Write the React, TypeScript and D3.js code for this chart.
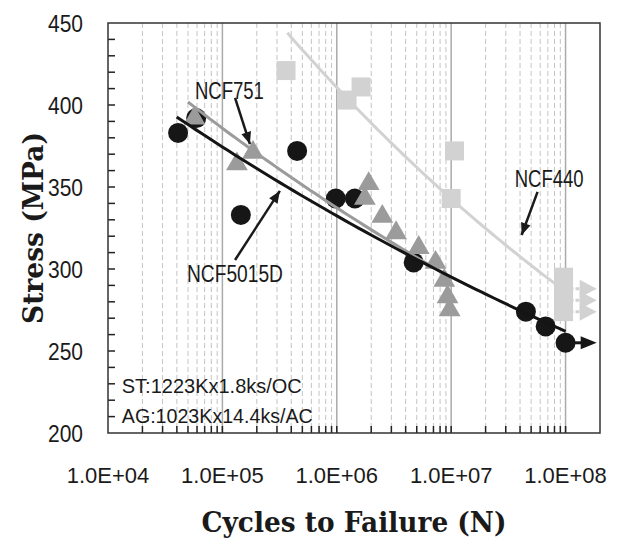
import React from "react";
import * as d3 from "d3";

// NCF5015D (black circles)
const ncf5015dCycles = [4.1e4, 5.9e4, 1.45e5, 4.5e5, 9.8e5, 1.44e6, 4.7e6, 4.5e7, 6.7e7, 1.0e8];
const ncf5015dStress = [383, 392, 333, 372, 343, 343, 304, 274, 265, 255];
const ncf5015dRunout = [false, false, false, false, false, false, false, false, false, true];

// NCF751 (grey triangles)
const ncf751Cycles = [5.7e4, 1.34e5, 1.85e5, 1.76e6, 1.9e6, 2.5e6, 3.3e6, 5.2e6, 7.3e6, 8.7e6, 9.3e6, 9.7e6];
const ncf751Stress = [392, 364, 371, 343, 352, 332, 322, 313, 304, 293, 283, 275];

// NCF440 (light grey squares)
const ncf440Cycles = [3.6e5, 1.23e6, 1.63e6, 1.07e7, 1.0e7, 9.6e7, 9.6e7, 9.6e7, 9.6e7];
const ncf440Stress = [421, 403, 411, 372, 343, 295, 288, 281, 274];
const ncf440Runout = [false, false, false, false, false, false, true, true, true];

// Power-law trend lines: S = S0 * (N / N0)^b, drawn from N0 to N1
const fitSeries = ["NCF440", "NCF751", "NCF5015D"];
const fitN0 = [3.7e5, 5.0e4, 3.98e4];
const fitN1 = [1.0e8, 1.0e7, 1.0e8];
const fitS0 = [444, 401.8, 392.7];
const fitB = [-0.0784, -0.0584, -0.0517];
const fitColors = ["#d2d2d2", "#9b9b9b", "#141414"];

const xTickValues = [1e4, 1e5, 1e6, 1e7, 1e8];
const xTickLabels = ["1.0E+04", "1.0E+05", "1.0E+06", "1.0E+07", "1.0E+08"];
const yTickValues = [200, 250, 300, 350, 400, 450];

const runoutEnd = 1.87e8;

const W = 619;
const H = 548;
const M = { left: 108, top: 23, right: 600, bottom: 433 };

export default function App() {
  const x = d3.scaleLog().domain([1e4, 2e8]).range([M.left, M.right]);
  const y = d3.scaleLinear().domain([200, 450]).range([M.bottom, M.top]);

  // decade sub-divisions for grid and ticks
  const minor: number[] = [];
  for (let e = 4; e <= 8; e++) {
    for (let k = 1; k <= 9; k++) {
      const v = k * Math.pow(10, e);
      if (v > 1e4 && v < 2e8) minor.push(v);
    }
  }
  const major = minor.filter((v) => xTickValues.includes(v));
  const minorOnly = minor.filter((v) => !xTickValues.includes(v));
  const yMinor = d3.range(210, 450, 10);

  const line = d3
    .line<[number, number]>()
    .x((d) => x(d[0]))
    .y((d) => y(d[1]));

  const fits = fitSeries.map((name, i) => {
    const pts: [number, number][] = d3
      .range(0, 61)
      .map((j) => {
        const ln = Math.log10(fitN0[i]) + (j / 60) * (Math.log10(fitN1[i]) - Math.log10(fitN0[i]));
        const n = Math.pow(10, ln);
        return [n, fitS0[i] * Math.pow(n / fitN0[i], fitB[i])];
      });
    return { name, d: line(pts) || "", color: fitColors[i] };
  });

  const tri = d3.symbol().type(d3.symbolTriangle).size(205)() || "";
  const sq = 19;

  const arrowHead = (x1: number, y1: number, x2: number, y2: number, len = 11, half = 4.5) => {
    const a = Math.atan2(y2 - y1, x2 - x1);
    const bx = x2 - len * Math.cos(a);
    const by = y2 - len * Math.sin(a);
    const px = -Math.sin(a) * half;
    const py = Math.cos(a) * half;
    return `M${x2},${y2}L${bx + px},${by + py}L${bx - px},${by - py}Z`;
  };

  const annotations = [
    { text: "NCF751", tx: 5.75e4, ts: 403.7, len: 69, ax: 1.29e5, as: 404.3, bx: 1.74e5, bs: 376.2 },
    { text: "NCF5015D", tx: 4.9e4, ts: 292, len: 96, ax: 1.29e5, as: 305.5, bx: 3.18e5, bs: 347.6 },
    { text: "NCF440", tx: 3.59e7, ts: 350, len: 69, ax: 5.69e7, as: 347, bx: 4.13e7, bs: 320.7 },
  ];

  const sans = "'Liberation Sans', Arial, sans-serif";
  const serif = "'DejaVu Serif', 'Liberation Serif', serif";

  return (
    <svg width={W} height={H} style={{ position: "absolute", left: 0, top: 0, background: "#fff" }}>
      {/* grid */}
      {minorOnly.map((v) => (
        <line key={`g${v}`} x1={x(v)} x2={x(v)} y1={M.top} y2={M.bottom} stroke="#c4c4c4" strokeWidth={1} strokeDasharray="5,3" />
      ))}
      {major.map((v) => (
        <line key={`G${v}`} x1={x(v)} x2={x(v)} y1={M.top} y2={M.bottom} stroke="#aaaaaa" strokeWidth={1.5} />
      ))}

      {/* ticks */}
      {minor.map((v) => (
        <line key={`t${v}`} x1={x(v)} x2={x(v)} y1={M.bottom} y2={M.bottom - 7} stroke="#222" strokeWidth={1.5} />
      ))}
      {yMinor.map((v) => (
        <line key={`yt${v}`} x1={M.left} x2={M.left + 7} y1={y(v)} y2={y(v)} stroke="#222" strokeWidth={1.5} />
      ))}

      {/* NCF5015D circles */}
      {ncf5015dCycles.map((n, i) => (
        <circle key={`c${i}`} cx={x(n)} cy={y(ncf5015dStress[i])} r={10} fill="#161616" />
      ))}
      {ncf5015dCycles.map((n, i) =>
        ncf5015dRunout[i] ? (
          <g key={`cr${i}`}>
            <line x1={x(n)} x2={x(runoutEnd) - 10} y1={y(ncf5015dStress[i])} y2={y(ncf5015dStress[i])} stroke="#161616" strokeWidth={3} />
            <path d={arrowHead(x(n), y(ncf5015dStress[i]), x(runoutEnd), y(ncf5015dStress[i]), 16, 6.5)} fill="#161616" />
          </g>
        ) : null
      )}

      {/* NCF440 squares */}
      {ncf440Cycles.map((n, i) =>
        ncf440Runout[i] ? (
          <g key={`sr${i}`}>
            <line x1={x(n)} x2={x(runoutEnd) - 10} y1={y(ncf440Stress[i])} y2={y(ncf440Stress[i])} stroke="#d2d2d2" strokeWidth={3} strokeDasharray="4,2" />
            <path d={arrowHead(x(n), y(ncf440Stress[i]), x(runoutEnd), y(ncf440Stress[i]), 17, 9)} fill="#d2d2d2" />
          </g>
        ) : null
      )}
      {ncf440Cycles.map((n, i) => (
        <rect key={`s${i}`} x={x(n) - sq / 2} y={y(ncf440Stress[i]) - sq / 2} width={sq} height={sq} fill="#d2d2d2" />
      ))}

      {/* NCF751 triangles */}
      {ncf751Cycles.map((n, i) => (
        <path key={`tr${i}`} d={tri} transform={`translate(${x(n)},${y(ncf751Stress[i])})`} fill="#9b9b9b" />
      ))}

      {/* trend lines */}
      {fits.map((f) => (
        <path key={f.name} d={f.d} fill="none" stroke={f.color} strokeWidth={3} />
      ))}

      {/* frame */}
      <rect x={M.left} y={M.top} width={M.right - M.left} height={M.bottom - M.top} fill="none" stroke="#333" strokeWidth={1.5} />

      {/* annotations */}
      {annotations.map((a) => (
        <g key={a.text}>
          <text x={x(a.tx)} y={y(a.ts)} fontFamily={sans} fontSize={23} fill="#1a1a1a" textLength={a.len} lengthAdjust="spacingAndGlyphs">
            {a.text}
          </text>
          <line x1={x(a.ax)} y1={y(a.as)} x2={x(a.bx)} y2={y(a.bs)} stroke="#1a1a1a" strokeWidth={2.5} />
          <path d={arrowHead(x(a.ax), y(a.as), x(a.bx), y(a.bs), 12, 5)} fill="#1a1a1a" />
        </g>
      ))}
      <text x={x(1.32e4)} y={y(224.4)} fontFamily={sans} fontSize={21} fill="#1a1a1a" textLength={180} lengthAdjust="spacingAndGlyphs">
        ST:1223Kx1.8ks/OC
      </text>
      <text x={x(1.32e4)} y={y(206.1)} fontFamily={sans} fontSize={21} fill="#1a1a1a" textLength={191} lengthAdjust="spacingAndGlyphs">
        AG:1023Kx14.4ks/AC
      </text>

      {/* axis labels */}
      {xTickValues.map((v, i) => (
        <text key={`xl${v}`} x={x(v)} y={483} textAnchor="middle" fontFamily={sans} fontSize={22} fill="#1a1a1a">
          {xTickLabels[i]}
        </text>
      ))}
      {yTickValues.map((v) => (
        <text key={`yl${v}`} x={83} y={y(v)} dy="0.36em" textAnchor="end" fontFamily={sans} fontSize={24} fill="#1a1a1a" textLength={35} lengthAdjust="spacingAndGlyphs">
          {v}
        </text>
      ))}

      <text x={(M.left + M.right) / 2} y={532} textAnchor="middle" fontFamily={serif} fontWeight="bold" fontSize={27} fill="#1a1a1a" textLength={305} lengthAdjust="spacingAndGlyphs">
        Cycles to Failure (N)
      </text>
      <text transform={`translate(43,${(M.top + M.bottom) / 2}) rotate(-90)`} textAnchor="middle" fontFamily={serif} fontWeight="bold" fontSize={27} fill="#1a1a1a" textLength={192} lengthAdjust="spacingAndGlyphs">
        Stress (MPa)
      </text>
    </svg>
  );
}
